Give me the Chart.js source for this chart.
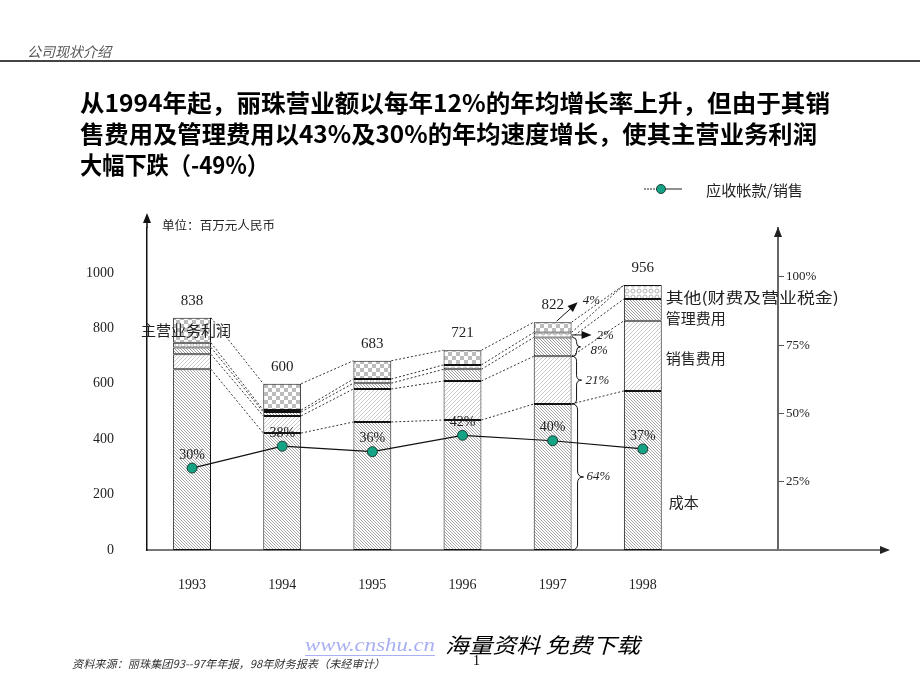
<!DOCTYPE html>
<html>
<head>
<meta charset="utf-8">
<script src="https://cdn.jsdelivr.net/npm/chart.js@4.4.0/dist/chart.umd.min.js"></script>
<style>
  body { margin: 0; background: #fff; }
  canvas { display: block; }
</style>
</head>
<body>
<canvas id="chart" width="920" height="690"></canvas>
<script>
// data (百万元人民币)
const years = ['1993', '1994', '1995', '1996', '1997', '1998'];
const totals = [838, 600, 683, 721, 822, 956];
const cost = [652, 422, 462, 469, 527, 574];
const selling = [54, 62, 119, 141, 172, 253];
const admin = [25, 14, 21, 42, 68, 79];
const other = [17, 7, 15, 16, 18, 50];
const profit = [90, 95, 66, 53, 37, 0];
const receivableRatio = [30, 38, 36, 42, 40, 37];
const leftTicks = [0, 200, 400, 600, 800, 1000];
const rightTicks = [25, 50, 75, 100];
const shares1997 = ['4%', '2%', '8%', '21%', '64%'];

const SERIF = '"Liberation Serif", "DejaVu Serif", serif';
const CJK = '"Noto Sans CJK SC", "Noto Sans", sans-serif';

const canvas = document.getElementById('chart');
const mainCtx = canvas.getContext('2d');

function tile(size, paint) {
  const c = document.createElement('canvas');
  c.width = c.height = size;
  const g = c.getContext('2d');
  g.fillStyle = '#fff';
  g.fillRect(0, 0, size, size);
  paint(g, size);
  return mainCtx.createPattern(c, 'repeat');
}

function hatch(size, color, dir, lw) {
  return tile(size, (g, s) => {
    g.strokeStyle = color;
    g.lineWidth = lw;
    g.beginPath();
    for (let k = -1; k <= 1; k++) {
      if (dir > 0) { g.moveTo(k * s, s); g.lineTo(k * s + s, 0); }
      else { g.moveTo(k * s, 0); g.lineTo(k * s + s, s); }
    }
    g.stroke();
  });
}

const costPat = hatch(3, '#a8a8a8', -1, 1);
const sellPat = hatch(4, '#cacaca', 1, 1);
const adminPat = hatch(3, '#9a9a9a', -1, 1);
const otherPat = tile(6, (g) => {
  g.strokeStyle = '#b4b4b4';
  g.lineWidth = 1;
  g.beginPath();
  g.arc(3, 3, 2, 0, Math.PI * 2);
  g.stroke();
});
const checkPat = tile(8, (g) => {
  g.fillStyle = '#bcbcbc';
  g.fillRect(0, 0, 4, 4);
  g.fillRect(4, 4, 4, 4);
});

function arrow(ctx, x1, y1, x2, y2) {
  const a = Math.atan2(y2 - y1, x2 - x1);
  ctx.beginPath();
  ctx.moveTo(x1, y1);
  ctx.lineTo(x2 - 6 * Math.cos(a), y2 - 6 * Math.sin(a));
  ctx.stroke();
  ctx.beginPath();
  ctx.moveTo(x2, y2);
  ctx.lineTo(x2 - 10 * Math.cos(a) + 4 * Math.sin(a), y2 - 10 * Math.sin(a) - 4 * Math.cos(a));
  ctx.lineTo(x2 - 10 * Math.cos(a) - 4 * Math.sin(a), y2 - 10 * Math.sin(a) + 4 * Math.cos(a));
  ctx.closePath();
  ctx.fill();
}

function brace(ctx, x, y1, y2, d) {
  const m = (y1 + y2) / 2;
  ctx.beginPath();
  ctx.moveTo(x - d, y1);
  ctx.quadraticCurveTo(x, y1, x, y1 + d);
  ctx.lineTo(x, m - d);
  ctx.quadraticCurveTo(x, m, x + d, m);
  ctx.quadraticCurveTo(x, m, x, m + d);
  ctx.lineTo(x, y2 - d);
  ctx.quadraticCurveTo(x, y2, x - d, y2);
  ctx.stroke();
}

function fitText(ctx, str, x, y, width) {
  const w = ctx.measureText(str).width;
  ctx.save();
  ctx.translate(x, y);
  ctx.scale(width / w, 1);
  ctx.fillText(str, 0, 0);
  ctx.restore();
}

const decor = {
  id: 'decor',
  beforeDatasetsDraw(chart) {
    const ctx = chart.ctx;
    // dotted connectors between segment tops of neighbouring bars
    ctx.save();
    ctx.strokeStyle = '#333';
    ctx.lineWidth = 1;
    ctx.setLineDash([2, 2]);
    for (let i = 0; i < 5; i++) {
      const bars = chart.getDatasetMeta(i).data;
      for (let j = 0; j < bars.length - 1; j++) {
        const a = bars[j], b = bars[j + 1];
        ctx.beginPath();
        ctx.moveTo(a.x + a.width / 2, a.y);
        ctx.lineTo(b.x - b.width / 2, b.y);
        ctx.stroke();
      }
    }
    ctx.restore();
  },
  afterDraw(chart) {
    const ctx = chart.ctx;
    const area = chart.chartArea;
    const y = chart.scales.y;
    ctx.save();

    // header
    ctx.fillStyle = '#555';
    ctx.font = 'italic 14px ' + CJK;
    ctx.textBaseline = 'middle';
    ctx.fillText('公司现状介绍', 27, 52);
    ctx.fillStyle = '#444';
    ctx.fillRect(0, 60, 920, 2);

    // title
    ctx.fillStyle = '#000';
    ctx.font = 'bold 24px ' + CJK;
    fitText(ctx, '从1994年起，丽珠营业额以每年12%的年均增长率上升，但由于其销', 80, 103, 750);
    fitText(ctx, '售费用及管理费用以43%及30%的年均速度增长，使其主营业务利润', 80, 134, 737);
    fitText(ctx, '大幅下跌（-49%）', 80, 165, 189);

    // legend
    ctx.strokeStyle = '#222';
    ctx.lineWidth = 1;
    ctx.setLineDash([2, 1]);
    ctx.beginPath(); ctx.moveTo(644, 189); ctx.lineTo(660, 189); ctx.stroke();
    ctx.setLineDash([]);
    ctx.beginPath(); ctx.moveTo(660, 189); ctx.lineTo(682, 189); ctx.stroke();
    ctx.fillStyle = '#14a384';
    ctx.beginPath(); ctx.arc(661, 189, 4.5, 0, Math.PI * 2); ctx.fill();
    ctx.strokeStyle = '#1d3d33'; ctx.stroke();
    ctx.fillStyle = '#222';
    ctx.font = '15px ' + CJK;
    fitText(ctx, '应收帐款/销售', 706, 190, 97);

    // unit
    ctx.font = '12px ' + CJK;
    fitText(ctx, '单位：百万元人民币', 162, 225, 113);

    // axis arrows
    ctx.fillStyle = '#111';
    ctx.strokeStyle = '#111';
    ctx.lineWidth = 1.5;
    arrow(ctx, area.left, area.top, area.left, 213);
    ctx.strokeStyle = '#555';
    ctx.fillStyle = '#222';
    arrow(ctx, area.right, area.top + 4, area.right, area.top - 1);
    ctx.lineWidth = 2;
    ctx.strokeStyle = '#777';
    arrow(ctx, area.right, area.bottom, 890, area.bottom);

    // totals above bars
    ctx.fillStyle = '#222';
    ctx.font = '15px ' + SERIF;
    ctx.textAlign = 'center';
    const costBars = chart.getDatasetMeta(0).data;
    costBars.forEach((bar, j) => {
      ctx.fillText(String(totals[j]), bar.x, y.getPixelForValue(totals[j]) - 17);
    });

    // ratio labels on the line
    ctx.font = '14px ' + SERIF;
    const pts = chart.getDatasetMeta(5).data;
    pts.forEach((p, j) => {
      ctx.fillText(receivableRatio[j] + '%', p.x, p.y - 13);
    });

    ctx.textAlign = 'left';
    ctx.font = '15px ' + CJK;
    fitText(ctx, '主营业务利润', 141, 330, 90);

    // 1997 breakdown
    const m = (i) => chart.getDatasetMeta(i).data[4];
    const b97 = m(0);
    const xr = b97.x + b97.width / 2;
    ctx.strokeStyle = '#111';
    ctx.fillStyle = '#111';
    ctx.lineWidth = 1;
    arrow(ctx, b97.x + 4, m(4).y - 1, b97.x + 25, m(4).y - 20);
    const o = m(3);
    arrow(ctx, xr, o.y + (o.base - o.y) / 2, xr + 20, o.y + (o.base - o.y) / 2);
    brace(ctx, xr + 5, m(2).y, m(2).base, 4);
    brace(ctx, xr + 5, m(1).y, m(1).base, 5);
    brace(ctx, xr + 6, m(0).y, m(0).base, 6);
    ctx.fillStyle = '#222';
    ctx.font = 'italic 13px ' + SERIF;
    ctx.fillText(shares1997[0], b97.x + 30, m(4).y - 22);
    ctx.fillText(shares1997[1], xr + 25, o.y + (o.base - o.y) / 2 + 1);
    ctx.fillText(shares1997[2], xr + 19, (m(2).y + m(2).base) / 2 + 4);
    ctx.fillText(shares1997[3], xr + 14, (m(1).y + m(1).base) / 2);
    ctx.fillText(shares1997[4], xr + 15, (m(0).y + m(0).base) / 2);

    // 1998 segment names
    const b98 = chart.getDatasetMeta(0).data[5];
    const x98 = b98.x + b98.width / 2 + 4;
    ctx.fillStyle = '#222';
    ctx.font = '15px ' + CJK;
    fitText(ctx, '其他(财费及营业税金)', x98, 297, 173);
    fitText(ctx, '管理费用', x98, 318, 60);
    fitText(ctx, '销售费用', x98, 358, 60);
    fitText(ctx, '成本', x98 + 3, 502, 30);

    // footer
    ctx.fillStyle = '#a9b0f2';
    ctx.font = 'italic 19px ' + SERIF;
    fitText(ctx, 'www.cnshu.cn', 305, 646, 130);
    ctx.fillRect(305, 655, 130, 1);
    ctx.fillStyle = '#000';
    ctx.font = 'italic 21px ' + CJK;
    fitText(ctx, '海量资料 免费下载', 445, 645, 195);
    ctx.font = '14px ' + SERIF;
    ctx.fillText('1', 473, 661);
    ctx.fillStyle = '#333';
    ctx.font = 'italic 11px ' + CJK;
    fitText(ctx, '资料来源：丽珠集团93--97年年报，98年财务报表（未经审计）', 72, 664, 313);
    ctx.restore();
  }
};

const barStyle = {
  type: 'bar',
  borderColor: '#111',
  borderWidth: 1,
  borderSkipped: false,
  barPercentage: 0.42,
  categoryPercentage: 1,
  yAxisID: 'y',
  order: 1
};

new Chart(mainCtx, {
  data: {
    labels: [...years, ''],
    datasets: [
      { ...barStyle, label: '成本', data: cost, backgroundColor: costPat },
      { ...barStyle, label: '销售费用', data: selling, backgroundColor: sellPat },
      { ...barStyle, label: '管理费用', data: admin, backgroundColor: adminPat },
      { ...barStyle, label: '其他(财费及营业税金)', data: other, backgroundColor: otherPat },
      { ...barStyle, label: '主营业务利润', data: profit, backgroundColor: checkPat },
      {
        type: 'line',
        label: '应收帐款/销售',
        data: receivableRatio,
        yAxisID: 'y2',
        order: 0,
        borderColor: '#111',
        borderWidth: 1.2,
        tension: 0,
        pointRadius: 5,
        pointBackgroundColor: '#14a384',
        pointBorderColor: '#1d3d33',
        pointBorderWidth: 1
      }
    ]
  },
  options: {
    responsive: false,
    animation: false,
    devicePixelRatio: 1,
    layout: { padding: { left: 0, right: 82, top: 228, bottom: 0 } },
    plugins: { legend: { display: false }, tooltip: { enabled: false } },
    scales: {
      x: {
        stacked: true,
        grid: { display: false, drawTicks: false },
        border: { display: true, color: '#777', width: 2 },
        ticks: { color: '#222', padding: 27, font: { family: SERIF, size: 14 } },
        afterFit(s) { s.height = 140; }
      },
      y: {
        stacked: true,
        min: 0,
        max: 1162,
        afterBuildTicks(s) { s.ticks = leftTicks.map(v => ({ value: v })); },
        grid: { display: false, drawTicks: false },
        border: { display: true, color: '#111', width: 1.5 },
        ticks: { color: '#222', padding: 33, font: { family: SERIF, size: 14 }, callback: v => String(v) },
        afterFit(s) { s.width = 147; }
      },
      y2: {
        position: 'right',
        min: 0,
        max: 117.9,
        afterBuildTicks(s) { s.ticks = rightTicks.map(v => ({ value: v })); },
        grid: { drawOnChartArea: false, drawTicks: true, tickLength: 6, color: '#555' },
        border: { display: true, color: '#666', width: 2 },
        ticks: { color: '#222', padding: 2, font: { family: SERIF, size: 13 }, callback: v => v + '%' },
        afterFit(s) { s.width = 60; }
      }
    }
  },
  plugins: [decor]
});
</script>
</body>
</html>
